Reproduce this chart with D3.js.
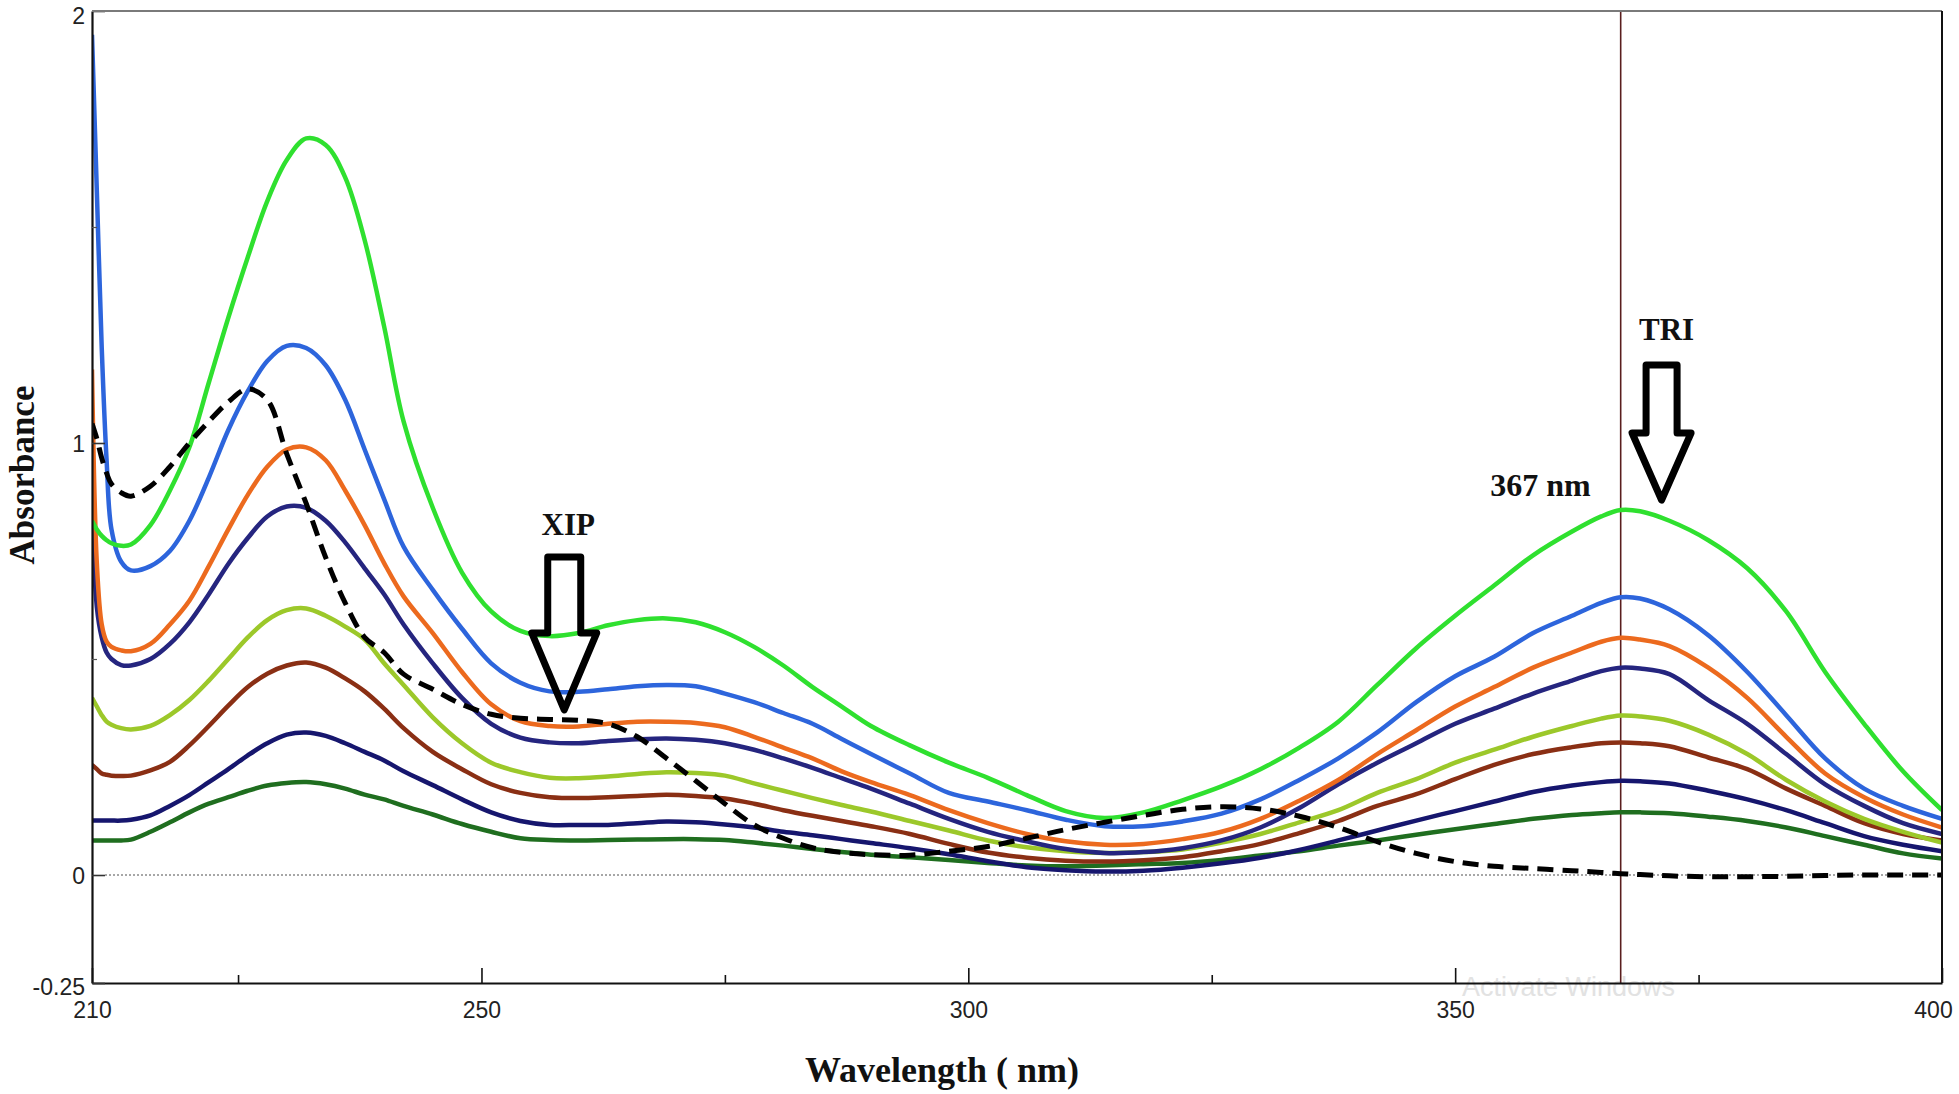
<!DOCTYPE html>
<html>
<head>
<meta charset="utf-8">
<script src="https://cdn.jsdelivr.net/npm/d3@7/dist/d3.min.js"></script>
<style>
  html, body { margin: 0; padding: 0; background: #fff; }
  svg { display: block; }
</style>
</head>
<body>
<svg id="chart" width="1959" height="1094"></svg>
<script>
// ---------------- DATA ----------------
const wavelengths = [210, 210.5, 211, 211.5, 212, 213, 214, 216, 218, 220,
  222, 224, 226, 228, 230, 232, 234, 236, 238, 240,
  242, 245, 248, 251, 254, 257, 260, 263, 266, 269,
  272, 275, 278, 281, 284, 287, 290, 294, 298, 302,
  306, 310, 314, 318, 322, 326, 330, 334, 338, 342,
  346, 350, 354, 358, 362, 365, 367, 369, 372, 376,
  380, 384, 388, 392, 396, 400];

const greenSeries = [0.82, 0.80, 0.785, 0.775, 0.768, 0.762, 0.765, 0.81, 0.89, 0.99,
  1.14, 1.29, 1.43, 1.56, 1.655, 1.705, 1.69, 1.615, 1.47, 1.27,
  1.05, 0.85, 0.70, 0.61, 0.565, 0.553, 0.56, 0.578, 0.59, 0.594,
  0.585, 0.562, 0.528, 0.485, 0.435, 0.39, 0.345, 0.30, 0.26, 0.225,
  0.185, 0.148, 0.132, 0.145, 0.173, 0.205, 0.245, 0.295, 0.355, 0.44,
  0.525, 0.60, 0.67, 0.74, 0.795, 0.83, 0.845, 0.842, 0.82, 0.775,
  0.71, 0.61, 0.47, 0.35, 0.24, 0.15];

const blueSeries = [1.945, 1.58, 1.22, 0.96, 0.80, 0.725, 0.705, 0.715, 0.75, 0.82,
  0.92, 1.03, 1.12, 1.19, 1.225, 1.22, 1.18, 1.10, 0.985, 0.87,
  0.76, 0.66, 0.57, 0.49, 0.445, 0.425, 0.424, 0.43, 0.437, 0.44,
  0.437, 0.42, 0.40, 0.375, 0.35, 0.315, 0.28, 0.235, 0.19, 0.17,
  0.15, 0.128, 0.113, 0.113, 0.124, 0.142, 0.175, 0.22, 0.27, 0.33,
  0.40, 0.46, 0.505, 0.56, 0.60, 0.63, 0.643, 0.64, 0.615, 0.555,
  0.47, 0.37, 0.27, 0.20, 0.16, 0.13];

const orangeSeries = [1.17, 0.72, 0.58, 0.54, 0.528, 0.52, 0.518, 0.535, 0.58, 0.635,
  0.715, 0.80, 0.88, 0.945, 0.985, 0.99, 0.96, 0.89, 0.81, 0.722,
  0.645, 0.56, 0.47, 0.395, 0.356, 0.345, 0.344, 0.35, 0.355, 0.355,
  0.352, 0.342, 0.32, 0.295, 0.27, 0.24, 0.215, 0.185, 0.15, 0.12,
  0.095, 0.078, 0.07, 0.072, 0.083, 0.10, 0.13, 0.172, 0.22, 0.28,
  0.335, 0.39, 0.435, 0.48, 0.515, 0.54, 0.549, 0.545, 0.53, 0.48,
  0.41, 0.32, 0.235, 0.18, 0.14, 0.11];

const navySeries = [0.85, 0.62, 0.55, 0.515, 0.50, 0.486, 0.485, 0.50, 0.535, 0.585,
  0.65, 0.72, 0.78, 0.83, 0.853, 0.85, 0.82, 0.77, 0.71, 0.65,
  0.58, 0.49, 0.41, 0.35, 0.318, 0.307, 0.305, 0.31, 0.314, 0.316,
  0.313, 0.305, 0.29, 0.27, 0.248, 0.224, 0.20, 0.165, 0.13, 0.10,
  0.078, 0.06, 0.051, 0.053, 0.062, 0.08, 0.11, 0.155, 0.21, 0.26,
  0.305, 0.35, 0.385, 0.42, 0.45, 0.472, 0.48, 0.478, 0.465, 0.405,
  0.35, 0.28, 0.21, 0.16, 0.12, 0.095];

const yellowGreenSeries = [0.41, 0.39, 0.37, 0.355, 0.348, 0.34, 0.337, 0.345, 0.37, 0.405,
  0.45, 0.50, 0.55, 0.59, 0.613, 0.617, 0.60, 0.575, 0.545, 0.49,
  0.44, 0.365, 0.305, 0.26, 0.238, 0.225, 0.224, 0.228, 0.234, 0.238,
  0.236, 0.23, 0.212, 0.195, 0.178, 0.162, 0.147, 0.125, 0.103, 0.08,
  0.064, 0.055, 0.051, 0.053, 0.059, 0.075, 0.095, 0.122, 0.15, 0.19,
  0.222, 0.26, 0.29, 0.32, 0.345, 0.362, 0.369, 0.367, 0.357, 0.325,
  0.28, 0.22, 0.17, 0.13, 0.10, 0.075];

const brownSeries = [0.255, 0.245, 0.235, 0.232, 0.23, 0.229, 0.23, 0.242, 0.262, 0.30,
  0.345, 0.392, 0.435, 0.466, 0.485, 0.492, 0.48, 0.455, 0.425, 0.385,
  0.34, 0.285, 0.245, 0.21, 0.19, 0.18, 0.178, 0.18, 0.183, 0.186,
  0.183, 0.177, 0.165, 0.15, 0.137, 0.125, 0.113, 0.095, 0.072, 0.052,
  0.04, 0.033, 0.031, 0.034, 0.041, 0.055, 0.072, 0.097, 0.125, 0.16,
  0.187, 0.222, 0.255, 0.28, 0.296, 0.305, 0.307, 0.305, 0.298, 0.272,
  0.245, 0.20, 0.16, 0.12, 0.095, 0.08];

const darkNavySeries = [0.126, 0.126, 0.126, 0.126, 0.126, 0.126, 0.128, 0.138, 0.16, 0.185,
  0.215, 0.245, 0.277, 0.305, 0.325, 0.33, 0.322, 0.305, 0.285, 0.265,
  0.24, 0.208, 0.175, 0.145, 0.125, 0.116, 0.116, 0.116, 0.12, 0.124,
  0.122, 0.117, 0.11, 0.10, 0.092, 0.083, 0.074, 0.062, 0.048, 0.032,
  0.018, 0.011, 0.008, 0.01, 0.017, 0.027, 0.04, 0.058, 0.08, 0.103,
  0.126, 0.148, 0.17, 0.192, 0.207, 0.215, 0.218, 0.217, 0.212, 0.195,
  0.175, 0.15, 0.12, 0.09, 0.07, 0.055];

const darkGreenSeries = [0.08, 0.08, 0.08, 0.08, 0.08, 0.08, 0.082, 0.10, 0.122, 0.145,
  0.165, 0.18, 0.195, 0.207, 0.213, 0.215, 0.21, 0.20, 0.186, 0.175,
  0.16, 0.14, 0.118, 0.10, 0.085, 0.081, 0.08, 0.081, 0.082, 0.083,
  0.083, 0.081, 0.075, 0.068, 0.06, 0.053, 0.047, 0.041, 0.035, 0.028,
  0.022, 0.02, 0.022, 0.025, 0.028, 0.035, 0.045, 0.055, 0.068, 0.08,
  0.093, 0.106, 0.118, 0.13, 0.139, 0.143, 0.145, 0.145, 0.143, 0.135,
  0.125, 0.11, 0.09, 0.07, 0.05, 0.038];

const dashedSeries = [1.045, 1.01, 0.965, 0.93, 0.905, 0.885, 0.877, 0.90, 0.945, 1.00,
  1.05, 1.095, 1.125, 1.10, 0.975, 0.86, 0.735, 0.63, 0.55, 0.515,
  0.465, 0.43, 0.395, 0.372, 0.363, 0.36, 0.358, 0.35, 0.32, 0.27,
  0.218, 0.165, 0.116, 0.085, 0.063, 0.052, 0.047, 0.046, 0.055, 0.066,
  0.085, 0.105, 0.122, 0.138, 0.152, 0.158, 0.153, 0.136, 0.11, 0.077,
  0.05, 0.031, 0.02, 0.015, 0.01, 0.006, 0.003, 0.001, -0.002, -0.004,
  -0.004, -0.003, -0.001, 0, 0, 0];

// drawing order (bottom to top)
const seriesNames = ["Mixture 8", "Mixture 7", "Mixture 6", "Mixture 5", "Mixture 4",
  "Mixture 3", "Mixture 2", "Mixture 1", "XIP"];
const seriesValues = [darkGreenSeries, darkNavySeries, brownSeries, yellowGreenSeries,
  navySeries, orangeSeries, blueSeries, greenSeries, dashedSeries];
const seriesColors = ["#1f6e1f", "#16166e", "#8a2f14", "#9cc82a", "#25257f",
  "#ec6a1e", "#2d65dc", "#2fe02f", "#000000"];
const seriesDashed = [false, false, false, false, false, false, false, false, true];

const xTickLabels = [210, 250, 300, 350, 400];
const xMinorTicks = [225, 275, 325, 375];
const yTickLabels = [-0.25, 0, 1, 2];
const yMinorTicks = [0.5, 1.5];

const annoLabels = ["XIP", "TRI"];
const annoWavelength = [258.5, 371.2];
const annoTipValue = [0.382, 0.868];

const markerWavelength = 367;
const markerLabel = "367 nm";

// ---------------- LAYOUT ----------------
const L = 92, R = 1942, T = 11, B = 983;
const svg = d3.select("#chart");

const x = d3.scaleLinear().domain([210, 400]).range([L, R]);
const y = d3.scaleLinear().domain([-0.25, 2]).range([B, T]);

// watermark (faint, under axis)
svg.append("text")
  .attr("x", 1462).attr("y", 996)
  .attr("font-family", "Liberation Sans, Arial, sans-serif")
  .attr("font-size", 27)
  .attr("fill", "#e2e2e2")
  .text("Activate Windows");

// zero dotted line
svg.append("line")
  .attr("x1", x(210) + 13).attr("x2", R)
  .attr("y1", y(0)).attr("y2", y(0))
  .attr("stroke", "#8a8a8a").attr("stroke-width", 1.3)
  .attr("stroke-dasharray", "2,2");

// clip
svg.append("defs").append("clipPath").attr("id", "plotclip")
  .append("rect").attr("x", L).attr("y", T).attr("width", R - L).attr("height", B - T);

// 367 nm marker line
svg.append("line")
  .attr("x1", x(markerWavelength)).attr("x2", x(markerWavelength))
  .attr("y1", T).attr("y2", B)
  .attr("stroke", "#5a1e1e").attr("stroke-width", 1.6);

const line = d3.line()
  .x((d, i) => x(wavelengths[i]))
  .y(d => y(d))
  .curve(d3.curveCatmullRom.alpha(0.5));

const g = svg.append("g").attr("clip-path", "url(#plotclip)");
seriesValues.forEach((vals, k) => {
  g.append("path")
    .datum(vals)
    .attr("d", line)
    .attr("fill", "none")
    .attr("stroke", seriesColors[k])
    .attr("stroke-width", seriesDashed[k] ? 5 : 4.5)
    .attr("stroke-linejoin", "round")
    .attr("stroke-dasharray", seriesDashed[k] ? "16,9" : null)
    .attr("data-name", seriesNames[k]);
});

// ---------------- AXES ----------------
const tickFont = "Liberation Sans, Arial, sans-serif";

const xAxis = svg.append("g").attr("transform", `translate(0,${B})`)
  .call(d3.axisBottom(x).tickValues(xTickLabels).tickSize(-15).tickSizeOuter(0)
    .tickPadding(19).tickFormat(d => String(d)));
xAxis.select(".domain").attr("stroke", "#111").attr("stroke-width", 2.2);
xAxis.selectAll(".tick line").attr("stroke", "#111").attr("stroke-width", 1.6);
xAxis.selectAll(".tick text").attr("font-family", tickFont).attr("font-size", 23).attr("fill", "#222")
  .attr("dx", d => d === 400 ? -9 : 0);

const xMinor = svg.append("g").attr("transform", `translate(0,${B})`)
  .call(d3.axisBottom(x).tickValues(xMinorTicks).tickSize(-8).tickSizeOuter(0).tickFormat(""));
xMinor.select(".domain").remove();
xMinor.selectAll(".tick line").attr("stroke", "#111").attr("stroke-width", 1.6);

const yAxis = svg.append("g").attr("transform", `translate(${L},0)`)
  .call(d3.axisLeft(y).tickValues(yTickLabels).tickSize(-13).tickSizeOuter(0)
    .tickPadding(7).tickFormat(d => String(d)));
yAxis.select(".domain").attr("stroke", "#111").attr("stroke-width", 2.2);
yAxis.selectAll(".tick line").attr("stroke", "#333").attr("stroke-width", 1.6);
yAxis.selectAll(".tick text").attr("font-family", tickFont).attr("font-size", 23).attr("fill", "#222")
  .attr("dy", d => d === 2 ? "0.55em" : (d === -0.25 ? "0.5em" : "0.36em"));

const yMinor = svg.append("g").attr("transform", `translate(${L},0)`)
  .call(d3.axisLeft(y).tickValues(yMinorTicks).tickSize(-5).tickSizeOuter(0).tickFormat(""));
yMinor.select(".domain").remove();
yMinor.selectAll(".tick line").attr("stroke", "#555").attr("stroke-width", 1.2);

// frame top & right
svg.append("line").attr("x1", L).attr("x2", R).attr("y1", T).attr("y2", T)
  .attr("stroke", "#7a7a7a").attr("stroke-width", 2);
svg.append("line").attr("x1", R).attr("x2", R).attr("y1", T).attr("y2", B)
  .attr("stroke", "#111").attr("stroke-width", 2);

// axis titles
const serif = "Liberation Serif, Times New Roman, serif";
svg.append("text")
  .attr("x", 942).attr("y", 1082)
  .attr("text-anchor", "middle")
  .attr("font-family", serif).attr("font-weight", "bold").attr("font-size", 36)
  .attr("fill", "#111")
  .text("Wavelength ( nm)");

svg.append("text")
  .attr("transform", "translate(34,475) rotate(-90)")
  .attr("text-anchor", "middle")
  .attr("font-family", serif).attr("font-weight", "bold").attr("font-size", 35)
  .attr("fill", "#111")
  .text("Absorbance");

// ---------------- ANNOTATIONS ----------------
const arrowGeom = [
  { shaftW: 33, shaftH: 76, headW: 65, headH: 77, labelDy: -175, labelDx: 4, fs: 31 },
  { shaftW: 31, shaftH: 68, headW: 59, headH: 67, labelDy: -160, labelDx: 5, fs: 31 }
];
function arrowPath(tx, ty, a) {
  const hb = ty - a.headH;          // head base
  const st = hb - a.shaftH;         // shaft top
  return `M${tx - a.shaftW / 2},${hb} L${tx - a.shaftW / 2},${st} L${tx + a.shaftW / 2},${st} ` +
    `L${tx + a.shaftW / 2},${hb} L${tx + a.headW / 2},${hb} L${tx},${ty} L${tx - a.headW / 2},${hb} Z`;
}
annoLabels.forEach((lab, i) => {
  const tx = x(annoWavelength[i]), ty = y(annoTipValue[i]);
  const a = arrowGeom[i];
  svg.append("path")
    .attr("d", arrowPath(tx, ty, a))
    .attr("fill", "none").attr("stroke", "#000").attr("stroke-width", 7)
    .attr("stroke-linejoin", "round");
  svg.append("text")
    .attr("x", tx + a.labelDx).attr("y", ty + a.labelDy)
    .attr("text-anchor", "middle")
    .attr("font-family", serif).attr("font-weight", "bold").attr("font-size", a.fs)
    .attr("fill", "#111")
    .text(lab);
});

svg.append("text")
  .attr("x", x(markerWavelength) - 30).attr("y", y(0.877))
  .attr("text-anchor", "end")
  .attr("font-family", serif).attr("font-weight", "bold").attr("font-size", 32)
  .attr("fill", "#111")
  .text(markerLabel);
</script>
</body>
</html>
